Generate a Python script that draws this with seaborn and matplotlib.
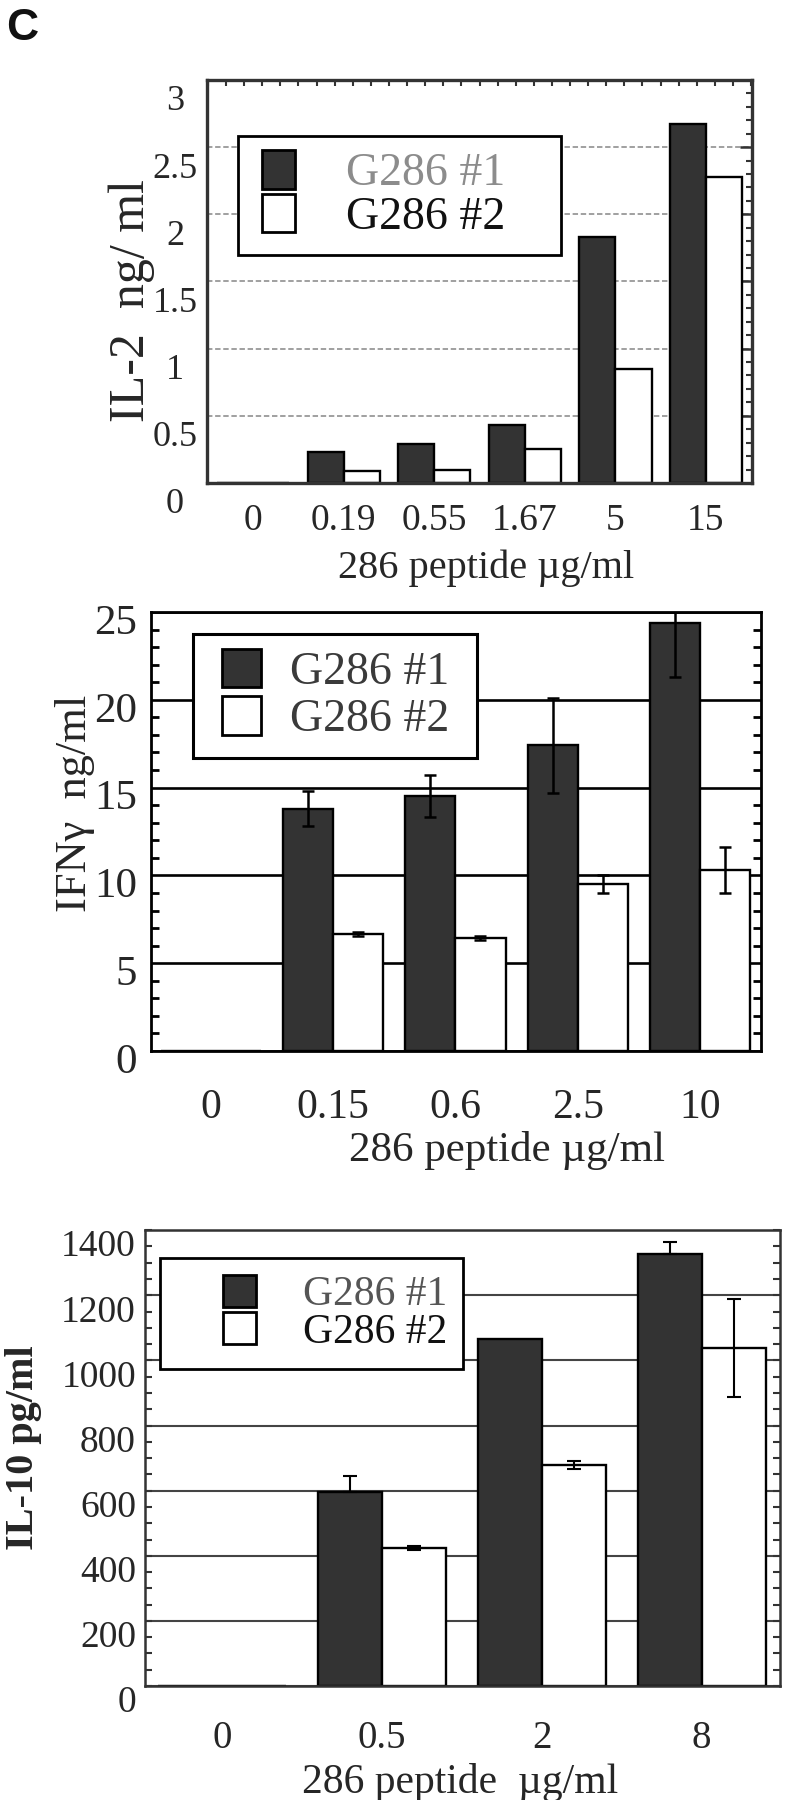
import pandas as pd
import seaborn as sns
import matplotlib.pyplot as plt
import matplotlib.transforms as mtransforms
from matplotlib.patches import Patch, Rectangle
from matplotlib.legend_handler import HandlerPatch
from matplotlib.font_manager import FontProperties
from matplotlib.ticker import MultipleLocator, FixedLocator, FuncFormatter

# data
lines = ["G286 #1", "G286 #2"]
bar_colors = ["#333333", "#ffffff"]

il2_doses = ["0", "0.19", "0.55", "1.67", "5", "15"]
il2_g1 = [0, 0.23, 0.29, 0.43, 1.83, 2.67]
il2_g2 = [0, 0.09, 0.10, 0.25, 0.85, 2.28]

ifn_doses = ["0", "0.15", "0.6", "2.5", "10"]
ifn_g1 = [0, 13.8, 14.5, 17.4, 24.4]
ifn_g2 = [0, 6.65, 6.45, 9.5, 10.3]
ifn_err1 = [0, 1.0, 1.2, 2.7, 3.1]
ifn_err2 = [0, 0.1, 0.12, 0.5, 1.3]

il10_doses = ["0", "0.5", "2", "8"]
il10_g1 = [0, 595, 1066, 1327]
il10_g2 = [0, 425, 678, 1039]
il10_err1 = [0, 50, 0, 36]
il10_err2 = [0, 6, 12, 150]

sns.set_style("white")
serif = ["Liberation Serif", "DejaVu Serif"]
plt.rcParams["font.family"] = serif
plt.rcParams["text.color"] = "#111111"

fig = plt.figure(figsize=(7.92, 18), dpi=100)
ax1 = fig.add_axes([0.2614, 0.7317, 0.6881, 0.2239])
ax2 = fig.add_axes([0.1907, 0.4161, 0.7702, 0.2439])
ax3 = fig.add_axes([0.1831, 0.0633, 0.8018, 0.2533])


def long_df(doses, g1, g2):
    return pd.DataFrame({
        "dose": doses + doses,
        "line": [lines[0]] * len(doses) + [lines[1]] * len(doses),
        "value": list(g1) + list(g2),
    })


def draw_bars(ax, doses, g1, g2, width):
    sns.barplot(data=long_df(doses, g1, g2), x="dose", y="value", hue="line",
                order=doses, hue_order=lines, palette=dict(zip(lines, bar_colors)),
                saturation=1, width=width, edgecolor="black", linewidth=1.7,
                errorbar=None, legend=False, ax=ax, zorder=2)
    return list(ax.containers)[:2]


def draw_err(ax, conts, lows, highs, lw, capsize):
    for cont, lo, hi in zip(conts, lows, highs):
        xs, ys, el, eh = [], [], [], []
        for p, a, b in zip(cont, lo, hi):
            if a > 0 or b > 0:
                xs.append(p.get_x() + p.get_width() / 2)
                ys.append(p.get_height())
                el.append(a)
                eh.append(b)
        ax.errorbar(xs, ys, yerr=[el, eh], fmt="none", ecolor="black",
                    elinewidth=lw, capsize=capsize, capthick=lw, zorder=3)


def add_legend(ax, x0, w, top, fs, textcolors, lpad, hw, hh, borderpad,
               textpad, spacing, frame_lw):
    handles = [Patch(facecolor=c, edgecolor="black", linewidth=2.0) for c in bar_colors]

    def patch_func(legend, orig_handle, xdescent, ydescent, width, height, fontsize):
        return Rectangle((-xdescent + lpad * fontsize,
                          -ydescent + (height - hh * fontsize) / 2),
                         hw * fontsize, hh * fontsize)

    leg = ax.legend(handles, lines, loc="upper left", bbox_to_anchor=(x0, 0, w, top),
                    mode="expand", borderaxespad=0,
                    prop=FontProperties(family=serif, size=fs),
                    handlelength=lpad + hw, handleheight=hh, handletextpad=textpad,
                    labelspacing=spacing, borderpad=borderpad, frameon=True,
                    fancybox=False, framealpha=1, edgecolor="black",
                    handler_map={Patch: HandlerPatch(patch_func=patch_func)})
    leg.get_frame().set_linewidth(frame_lw)
    for t, c in zip(leg.get_texts(), textcolors):
        t.set_color(c)
    return leg


def style_spines(ax, color, lw):
    for s in ax.spines.values():
        s.set_visible(True)
        s.set_color(color)
        s.set_linewidth(lw)


def shift_ylabels(ax, dy_px):
    off = mtransforms.ScaledTranslation(0, -dy_px / 100, fig.dpi_scale_trans)
    for lab in ax.get_yticklabels():
        lab.set_transform(lab.get_transform() + off)


fmt = FuncFormatter(lambda v, _: f"{v:g}")

# ---------------- IL-2 ----------------
draw_bars(ax1, il2_doses, il2_g1, il2_g2, 0.8)
ax1.set_xlim(-0.51, 5.51)
ax1.set_ylim(0, 3)
ax1.yaxis.set_major_locator(MultipleLocator(0.5))
ax1.yaxis.set_minor_locator(MultipleLocator(0.1))
ax1.yaxis.set_major_formatter(fmt)
ax1.xaxis.set_minor_locator(FixedLocator([-0.5 + 0.2 * k for k in range(31)]))
ax1.set_axisbelow(True)
ax1.grid(axis="y", color="#999999", linestyle=(0, (3, 1.5)), linewidth=1.3)
ax1.grid(axis="x", visible=False)
style_spines(ax1, "#333333", 2.4)
ax1.tick_params(axis="both", which="both", direction="in", top=True, right=True,
                color="#333333")
ax1.tick_params(axis="y", which="major", length=9, width=1.8, pad=23, labelsize=26)
ax1.tick_params(axis="y", which="minor", length=4.5, width=1.5)
ax1.tick_params(axis="x", which="major", length=0, pad=15, labelsize=27)
ax1.tick_params(axis="x", which="minor", length=4.5, width=1.5)
ax1.set_xlabel("286 peptide µg/ml", fontsize=29)
ax1.xaxis.set_label_coords(0.512, -0.166)
ax1.set_ylabel("IL-2  ng/ ml", fontsize=36)
ax1.yaxis.set_label_coords(-0.095, 0.452)
add_legend(ax1, 0.057, 0.593, 0.861, 33, ["#8c8c8c", "#111111"],
           lpad=0.19, hw=0.72, hh=0.83, borderpad=0.34, textpad=1.11,
           spacing=0.0, frame_lw=2.0)
for lab in ax1.get_yticklabels():
    lab.set_ha("center")

# ---------------- IFN-gamma ----------------
c2 = draw_bars(ax2, ifn_doses, ifn_g1, ifn_g2, 0.82)
draw_err(ax2, c2, [ifn_err1, ifn_err2], [ifn_err1, ifn_err2], 1.8, 4.3)
ax2.set_xlim(-0.49, 4.5)
ax2.set_ylim(0, 25)
ax2.yaxis.set_major_locator(MultipleLocator(5))
ax2.yaxis.set_minor_locator(MultipleLocator(1))
ax2.yaxis.set_major_formatter(fmt)
ax2.set_axisbelow(True)
ax2.grid(axis="y", color="black", linestyle="-", linewidth=1.9)
ax2.grid(axis="x", visible=False)
style_spines(ax2, "black", 2.0)
ax2.tick_params(axis="y", which="both", direction="in", left=True, right=True,
                color="black")
ax2.tick_params(axis="y", which="major", length=0, pad=10, labelsize=31)
ax2.tick_params(axis="y", which="minor", length=6, width=2)
ax2.tick_params(axis="x", which="both", length=0, pad=27, labelsize=30)
ax2.set_xlabel("286 peptide µg/ml", fontsize=31)
ax2.xaxis.set_label_coords(0.584, -0.182)
ax2.set_ylabel("IFNγ  ng/ml", fontsize=32)
ax2.yaxis.set_label_coords(-0.092, 0.565)
add_legend(ax2, 0.069, 0.465, 0.950, 33, ["#3a3a3a", "#3a3a3a"],
           lpad=0.27, hw=0.85, hh=0.83, borderpad=0.36, textpad=0.63,
           spacing=0.07, frame_lw=2.2)

# ---------------- IL-10 ----------------
c3 = draw_bars(ax3, il10_doses, il10_g1, il10_g2, 0.8)
draw_err(ax3, c3, [[0] * len(il10_err1), il10_err2], [il10_err1, il10_err2], 1.5, 5)
ax3.set_xlim(-0.48, 3.49)
ax3.set_ylim(0, 1400)
ax3.yaxis.set_major_locator(MultipleLocator(200))
ax3.yaxis.set_minor_locator(MultipleLocator(50))
ax3.yaxis.set_major_formatter(fmt)
ax3.set_axisbelow(True)
ax3.grid(axis="y", color="#444444", linestyle="-", linewidth=1.5)
ax3.grid(axis="x", visible=False)
style_spines(ax3, "#333333", 1.8)
ax3.tick_params(axis="y", which="both", direction="in", left=True, right=True,
                color="#333333")
ax3.tick_params(axis="y", which="major", length=5, width=1.5, pad=6.5, labelsize=27)
ax3.tick_params(axis="y", which="minor", length=5, width=1.5)
ax3.tick_params(axis="x", which="both", length=0, pad=24.5, labelsize=28)
ax3.set_xlabel("286 peptide  µg/ml", fontsize=30)
ax3.xaxis.set_label_coords(0.496, -0.169)
ax3.set_ylabel("IL-10 pg/ml", fontsize=29, fontweight="bold")
ax3.yaxis.set_label_coords(-0.162, 0.522)
add_legend(ax3, 0.024, 0.476, 0.939, 30, ["#555555", "#111111"],
           lpad=1.09, hw=0.79, hh=0.77, borderpad=0.42, textpad=1.13,
           spacing=-0.04, frame_lw=2.0)

shift_ylabels(ax1, 18)
shift_ylabels(ax2, 7)
shift_ylabels(ax3, 13)

fig.text(6 / 792, 1 - 8 / 1800, "C", ha="left", va="top", fontsize=32,
         fontweight="bold", family=["Liberation Sans", "DejaVu Sans"])

fig.savefig("out.png", dpi=100)
